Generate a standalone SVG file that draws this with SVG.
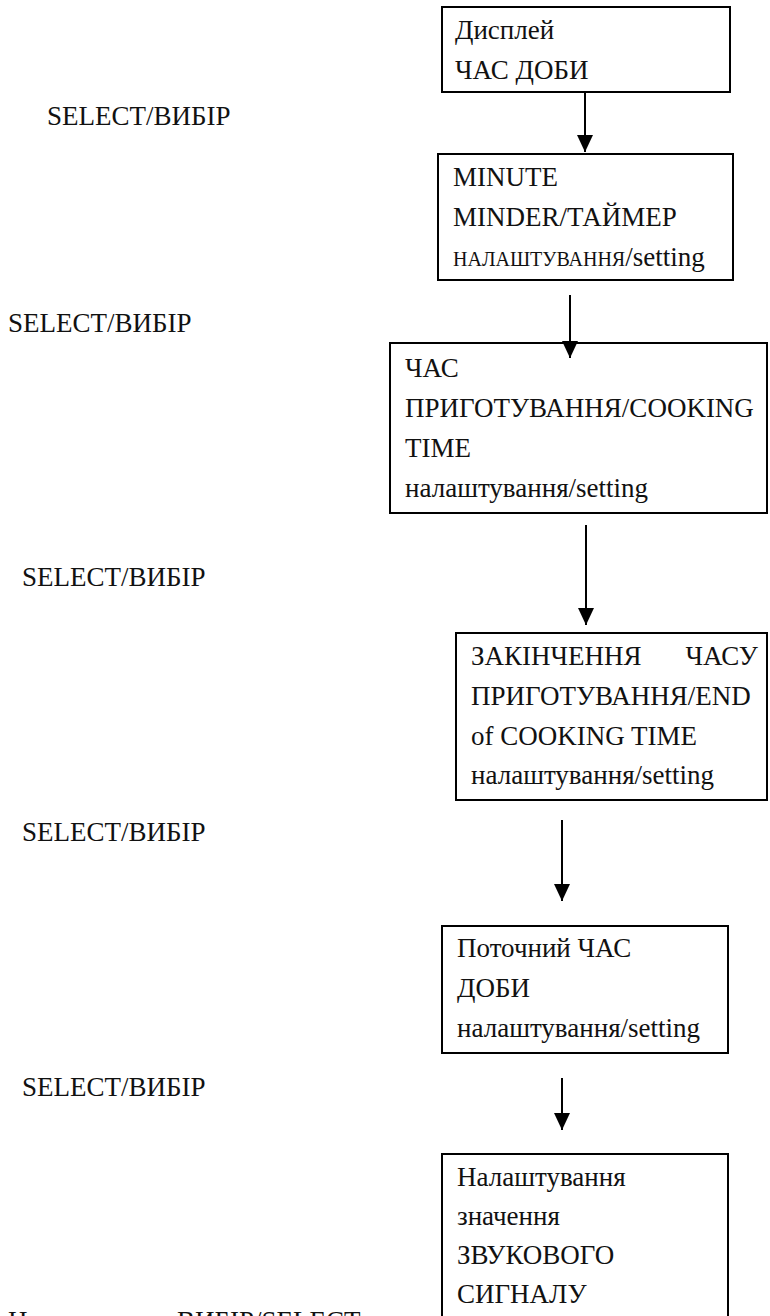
<svg xmlns="http://www.w3.org/2000/svg" width="770" height="1316" viewBox="0 0 770 1316">
<style>
text{font-family:"Liberation Serif","Times New Roman",serif;font-size:27px;fill:#111}
.box{fill:#fff;stroke:#000;stroke-width:2}
.con{stroke:#000;stroke-width:2;fill:none}
.sc{font-size:20px}
</style>
<defs>
<marker id="ah" viewBox="0 0 17 16" refX="17" refY="8" markerWidth="17" markerHeight="16" markerUnits="userSpaceOnUse" orient="auto">
<path d="M0,0 L17,8 L0,16 z" fill="#000"/>
</marker>
</defs>
<rect width="770" height="1316" fill="#fff"/>

<g id="labels">
<text x="47" y="125">SELECT/ВИБІР</text>
<text x="8" y="332">SELECT/ВИБІР</text>
<text x="22" y="586">SELECT/ВИБІР</text>
<text x="22" y="841">SELECT/ВИБІР</text>
<text x="22" y="1096">SELECT/ВИБІР</text>
<text x="8" y="1330">Н</text>
<text x="177" y="1330">ВИБІР/SELECT</text>
</g>

<g id="n1">
<rect class="box" x="442" y="7" width="288" height="85"/>
<text x="455" y="39">Дисплей</text>
<text x="455" y="79">ЧАС ДОБИ</text>
</g>

<g id="n2">
<rect class="box" x="438" y="154" width="295" height="126"/>
<text x="453" y="186">MINUTE</text>
<text x="453" y="226">MINDER/ТАЙМЕР</text>
<text x="453" y="266"><tspan class="sc">НАЛАШТУВАННЯ</tspan>/setting</text>
</g>

<g id="n3">
<rect class="box" x="390" y="343" width="377" height="170"/>
<text x="405" y="377">ЧАС</text>
<text x="405" y="417">ПРИГОТУВАННЯ/COOKING</text>
<text x="405" y="457">TIME</text>
<text x="405" y="497">налаштування/setting</text>
</g>

<g id="n4">
<rect class="box" x="456" y="633" width="311" height="167"/>
<text x="471" y="665">ЗАКІНЧЕННЯ</text>
<text x="758" y="665" text-anchor="end">ЧАСУ</text>
<text x="471" y="705">ПРИГОТУВАННЯ/END</text>
<text x="471" y="745">of COOKING TIME</text>
<text x="471" y="784">налаштування/setting</text>
</g>

<g id="n5">
<rect class="box" x="442" y="926" width="286" height="127"/>
<text x="457" y="957">Поточний ЧАС</text>
<text x="457" y="997">ДОБИ</text>
<text x="457" y="1037">налаштування/setting</text>
</g>

<g id="n6">
<rect class="box" x="442" y="1154" width="286" height="180"/>
<text x="457" y="1186">Налаштування</text>
<text x="457" y="1225">значення</text>
<text x="457" y="1264">ЗВУКОВОГО</text>
<text x="457" y="1303">СИГНАЛУ</text>
</g>

<g id="connectors">
<line class="con" x1="585" y1="92" x2="585" y2="152" marker-end="url(#ah)"/>
<line class="con" x1="570" y1="295" x2="570" y2="358" marker-end="url(#ah)"/>
<line class="con" x1="586" y1="525" x2="586" y2="625" marker-end="url(#ah)"/>
<line class="con" x1="562" y1="820" x2="562" y2="901" marker-end="url(#ah)"/>
<line class="con" x1="562" y1="1078" x2="562" y2="1130" marker-end="url(#ah)"/>
</g>
</svg>
